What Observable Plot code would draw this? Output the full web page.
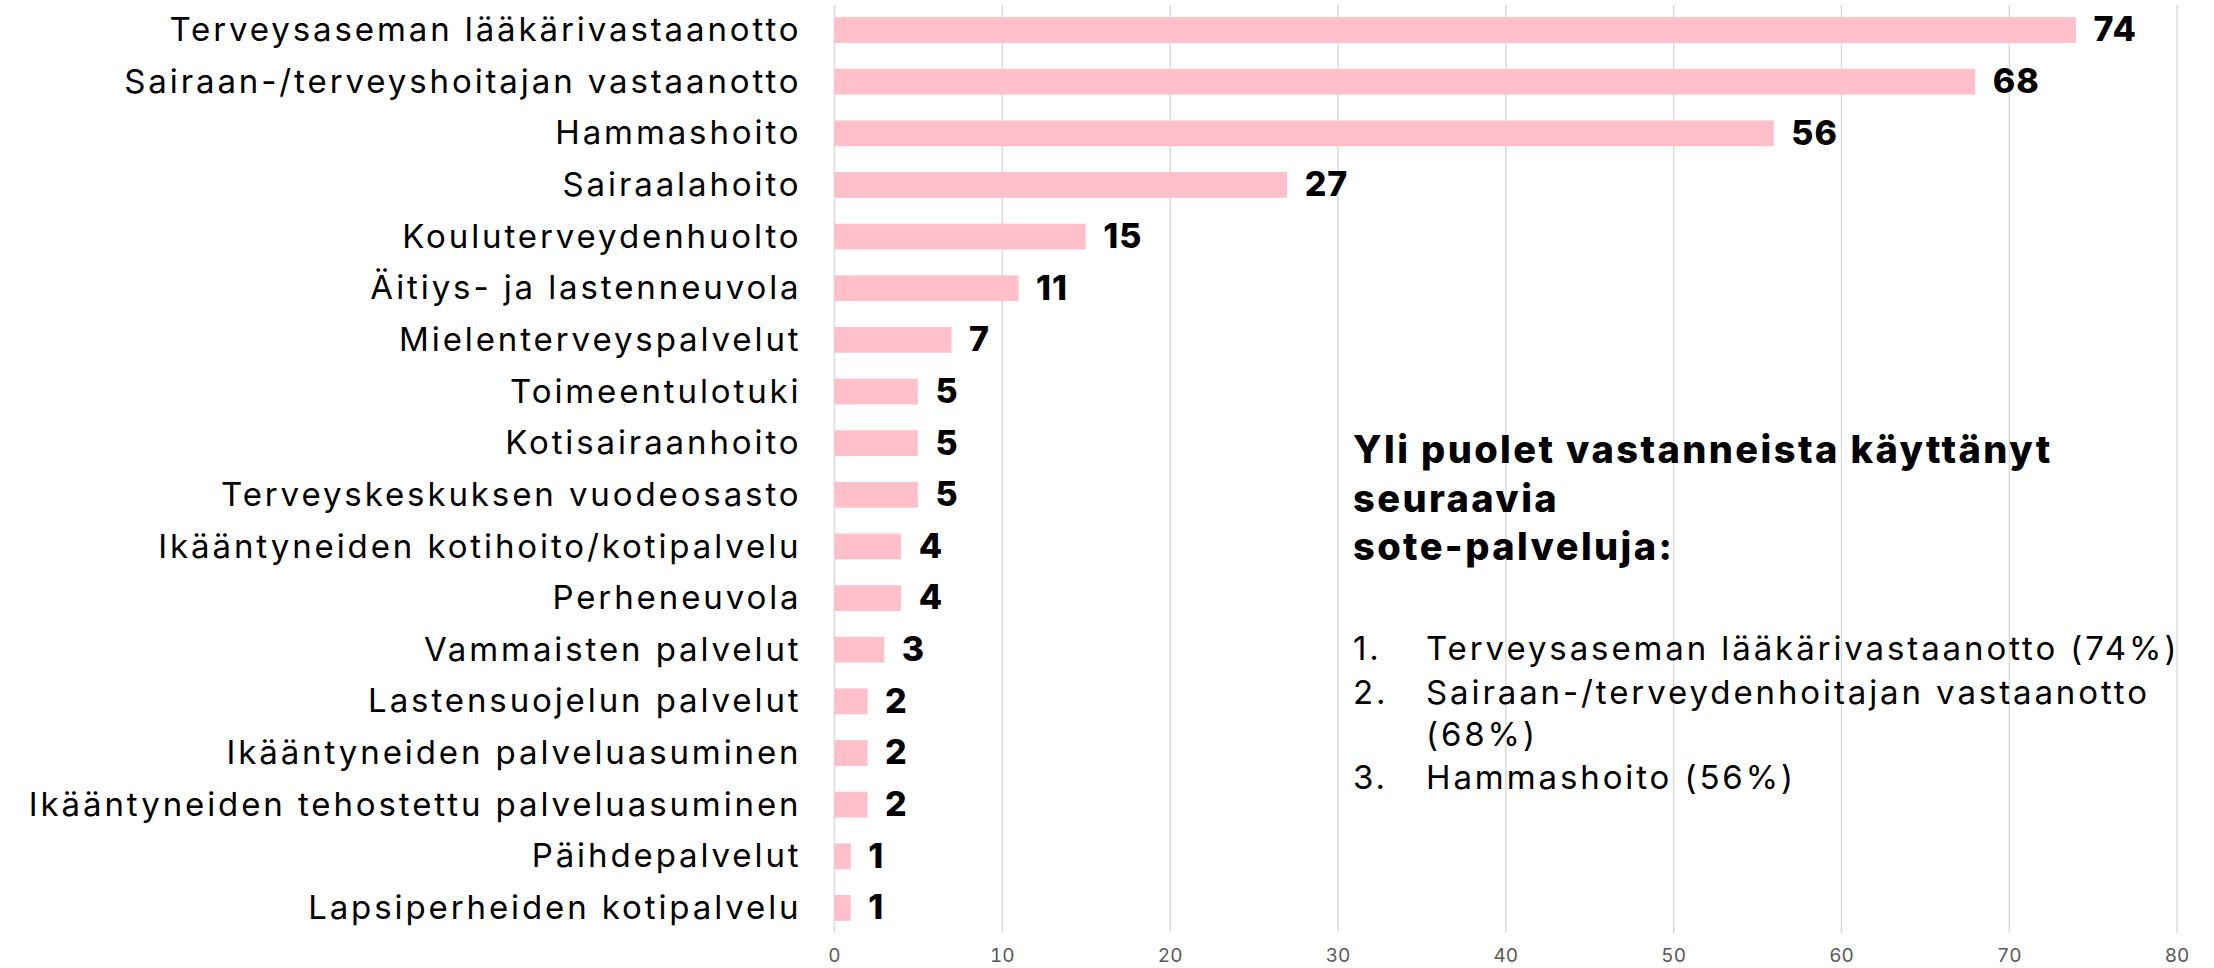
<!DOCTYPE html>
<html><head><meta charset="utf-8">
<script src="https://cdn.jsdelivr.net/npm/d3@7"></script>
<script src="https://cdn.jsdelivr.net/npm/@observablehq/plot@0.6"></script>
<style>
html,body{margin:0;padding:0;background:#fff;}
#wrap{width:2214px;height:968px;}
#wrap g[aria-label="y-axis tick label"] text{letter-spacing:2.9px;}
#wrap g.value-labels text{letter-spacing:1px;}
</style></head>
<body><div id="wrap"></div>
<script>
const services = [
  "Terveysaseman lääkärivastaanotto",
  "Sairaan-/terveyshoitajan vastaanotto",
  "Hammashoito",
  "Sairaalahoito",
  "Kouluterveydenhuolto",
  "Äitiys- ja lastenneuvola",
  "Mielenterveyspalvelut",
  "Toimeentulotuki",
  "Kotisairaanhoito",
  "Terveyskeskuksen vuodeosasto",
  "Ikääntyneiden kotihoito/kotipalvelu",
  "Perheneuvola",
  "Vammaisten palvelut",
  "Lastensuojelun palvelut",
  "Ikääntyneiden palveluasuminen",
  "Ikääntyneiden tehostettu palveluasuminen",
  "Päihdepalvelut",
  "Lapsiperheiden kotipalvelu"
];
const percents = [74, 68, 56, 27, 15, 11, 7, 5, 5, 5, 4, 4, 3, 2, 2, 2, 1, 1];
const xTicks = [0, 10, 20, 30, 40, 50, 60, 70, 80];
const noteTitle = ["Yli puolet vastanneista käyttänyt", "seuraavia", "sote-palveluja:"];
const noteNumbers = ["1.", "2.", "", "3."];
const noteLines = ["Terveysaseman lääkärivastaanotto (74%)", "Sairaan-/terveydenhoitajan vastaanotto", "(68%)", "Hammashoito (56%)"];

const data = services.map((s, i) => ({service: s, value: percents[i]}));
const FONT = "Inter, 'Noto Sans', sans-serif";

const chart = Plot.plot({
  width: 2214,
  height: 968,
  marginLeft: 834,
  marginRight: 37.4,
  marginTop: 5,
  marginBottom: 35,
  style: {fontFamily: FONT, background: "transparent", color: "#000"},
  x: {domain: [0, 80], round: false},
  y: {domain: services, paddingInner: 0.5, paddingOuter: 0.235, round: false},
  marks: [
    Plot.gridX(xTicks, {stroke: "#d9d9d9", strokeOpacity: 1, strokeWidth: 1.4}),
    Plot.barX(data, {x: "value", y: "service", fill: "#ffc0cb"}),
    Plot.text(data, {x: "value", y: "service", text: d => String(d.value), textAnchor: "start", dx: 17, fontSize: 34, fontWeight: 800, fill: "#000", className: "value-labels"}),
    Plot.axisY({tickSize: 0, tickPadding: 33, fontSize: 33, label: null, fill: "#000"}),
    Plot.axisX({ticks: xTicks, tickSize: 0, tickPadding: 15, fontSize: 19, label: null, fill: "#595959"})
  ]
});
document.getElementById("wrap").appendChild(chart);

const svg = d3.select(chart);
const g = svg.append("g").attr("font-family", FONT).attr("fill", "#000").attr("text-anchor", "start");
const titleY = [463, 512, 560];
noteTitle.forEach((t, i) => {
  g.append("text").attr("x", 1353).attr("y", titleY[i]).attr("font-size", 38).attr("font-weight", 800)
    .attr("letter-spacing", "2.4px").text(t);
});
const lineY = [660, 704, 746, 789];
noteLines.forEach((t, i) => {
  if (noteNumbers[i]) g.append("text").attr("x", 1353).attr("y", lineY[i]).attr("font-size", 33).attr("letter-spacing", "2.9px").text(noteNumbers[i]);
  g.append("text").attr("x", 1426).attr("y", lineY[i]).attr("font-size", 33).attr("letter-spacing", "2.9px").text(t);
});
</script>
</body></html>
